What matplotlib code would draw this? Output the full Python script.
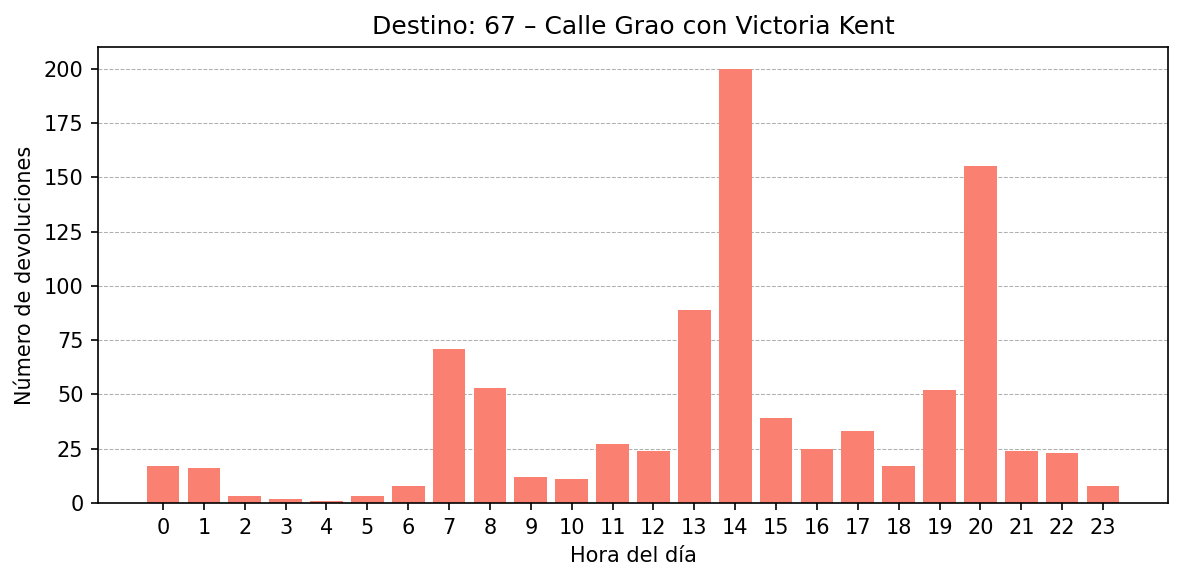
import matplotlib
matplotlib.use("Agg")
import matplotlib.pyplot as plt

# datos
horas = list(range(24))
devoluciones = [17, 16, 3, 2, 1, 3, 8, 71, 53, 12, 11, 27, 24, 89, 200, 39, 25, 33, 17, 52, 155, 24, 23, 8]
titulo = "Destino: 67 – Calle Grao con Victoria Kent"

fig = plt.figure(figsize=(1184 / 150, 581 / 150), dpi=150)
ax = fig.add_axes([98 / 1184, 1 - 503 / 581, (1168 - 98) / 1184, (503 - 47) / 581])

ax.bar(horas, devoluciones, color="salmon", width=0.8, zorder=2)
ax.set_xticks(horas)
ax.set_title(titulo)
ax.set_xlabel("Hora del día")
ax.set_ylabel("Número de devoluciones")
ax.grid(axis="y", linestyle="--", linewidth=0.5, zorder=0)

fig.savefig("out.png", dpi=150)
